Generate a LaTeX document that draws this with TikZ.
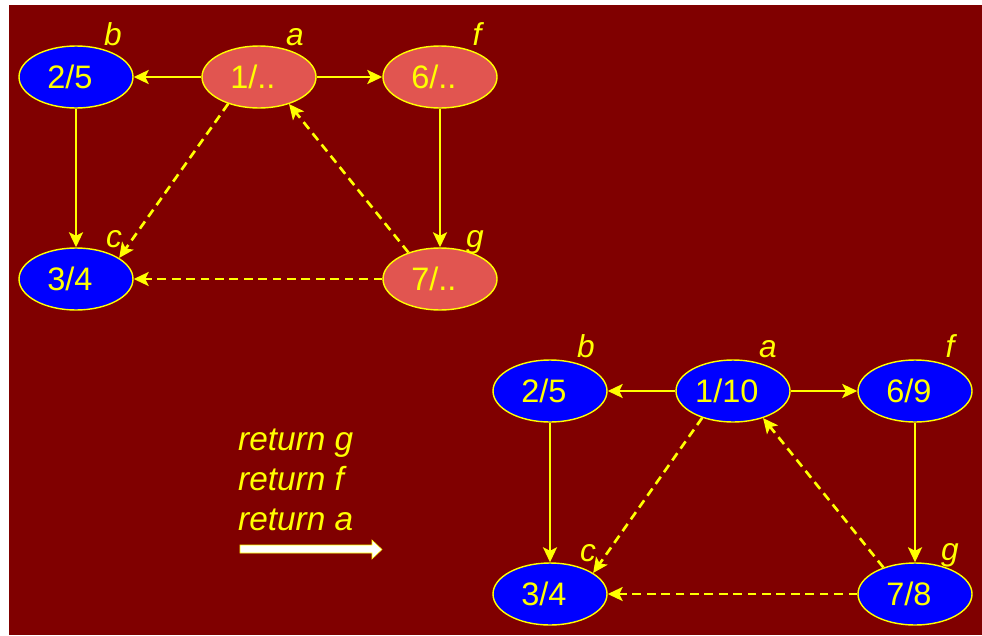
\documentclass[tikz,border=0pt]{standalone}
\usepackage{fontspec}
\setmainfont{Liberation Sans}
\usetikzlibrary{shapes.geometric, arrows.meta}
\definecolor{slideBg}{HTML}{800000}
\definecolor{nodeRed}{HTML}{E15550}
\definecolor{nodeBlue}{HTML}{0000FF}
\definecolor{lineYellow}{HTML}{FFFF00}

\begin{document}
\begin{tikzpicture}[
    vertex/.style={ellipse, draw=lineYellow, line width=0.8pt, minimum width=2.28cm, minimum height=1.24cm, inner sep=0pt, text=lineYellow, font=\fontsize{18.5}{21}\selectfont, execute at end node={\kern7pt}},
    open/.style={vertex, fill=nodeRed},
    done/.style={vertex, fill=nodeBlue},
    lbl/.style={anchor=base, text=lineYellow, font=\fontsize{18}{21}\selectfont\itshape},
    tree/.style={draw=lineYellow, line width=1.5pt, -{Stealth[length=3mm,width=2.8mm,inset=0.7mm]}},
    back/.style={tree, dash pattern=on 5pt off 3.2pt},
]
    % Slide background
    \useasboundingbox (0,0) rectangle (19.64,-12.70);
    \fill[slideBg] (0.18,-0.10) rectangle (19.64,-12.70);

    % Search in progress
    \node[done] (tb) at (1.52,-1.54) {2/5};
    \node[open] (ta) at (5.18,-1.54) {1/..};
    \node[open] (tf) at (8.80,-1.54) {6/..};
    \node[done] (tc) at (1.52,-5.58) {3/4};
    \node[open] (tg) at (8.80,-5.58) {7/..};

    \draw[tree] (ta) -- (tb);
    \draw[tree] (ta) -- (tf);
    \draw[tree] (tb) -- (tc);
    \draw[tree] (tf) -- (tg);
    \draw[back] (ta.221) -- (tc.26);
    \draw[back] (tg.140) -- (ta.318);
    \draw[back] (tg.west) -- (tc.east);

    \node[lbl] at (2.26,-0.90) {b};
    \node[lbl] at (5.90,-0.90) {a};
    \node[lbl] at (9.54,-0.90) {f};
    \node[lbl] at (2.28,-4.94) {c};
    \node[lbl] at (9.50,-4.94) {g};

    % Returns
    \node[anchor=base west, align=left, text=lineYellow, font=\fontsize{19}{22.7}\selectfont\itshape] (returns) at (4.64,-10.60) {return g\\return f\\return a};
    \filldraw[fill=white, draw=lineYellow, line width=0.3pt] (4.80,-10.90) -- (7.44,-10.90) -- (7.44,-10.80) -- (7.64,-10.99) -- (7.44,-11.18) -- (7.44,-11.06) -- (4.80,-11.06) -- cycle;

    % Search finished
    \node[done] (bb) at (11.00,-7.82) {2/5};
    \node[done] (ba) at (14.66,-7.82) {1/10};
    \node[done] (bf) at (18.30,-7.82) {6/9};
    \node[done] (bc) at (11.00,-11.88) {3/4};
    \node[done] (bg) at (18.30,-11.88) {7/8};

    \draw[tree] (ba) -- (bb);
    \draw[tree] (ba) -- (bf);
    \draw[tree] (bb) -- (bc);
    \draw[tree] (bf) -- (bg);
    \draw[back] (ba.221) -- (bc.26);
    \draw[back] (bg.140) -- (ba.318);
    \draw[back] (bg.west) -- (bc.east);

    \node[lbl] at (11.72,-7.14) {b};
    \node[lbl] at (15.36,-7.14) {a};
    \node[lbl] at (19.00,-7.14) {f};
    \node[lbl] at (11.76,-11.22) {c};
    \node[lbl] at (19.00,-11.20) {g};
\end{tikzpicture}
\end{document}
